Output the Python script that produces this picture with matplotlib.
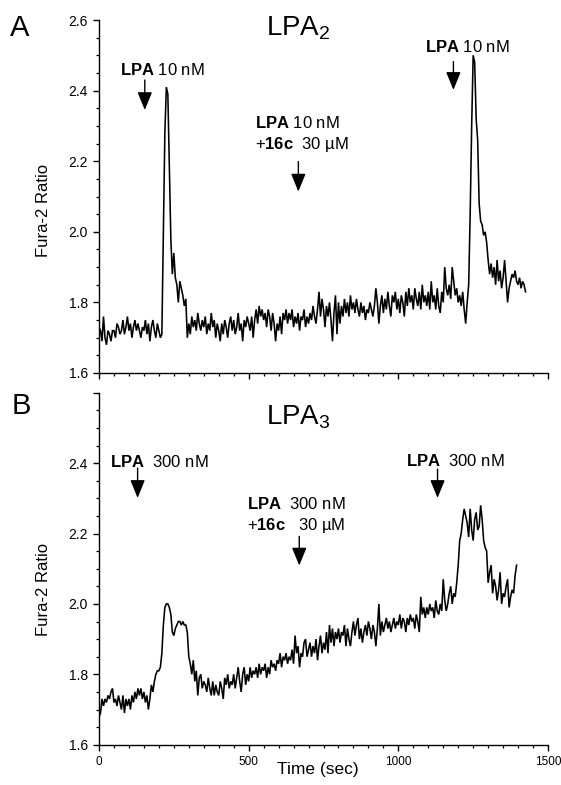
import numpy as np
import matplotlib
matplotlib.use("Agg")
import matplotlib.pyplot as plt
from matplotlib.ticker import MultipleLocator, FixedLocator, FuncFormatter

plt.rcParams['font.family'] = ['Liberation Sans', 'DejaVu Sans']
plt.rcParams['mathtext.fontset'] = 'custom'
plt.rcParams['mathtext.rm'] = 'Liberation Sans'
plt.rcParams['mathtext.bf'] = 'Liberation Sans:bold'
plt.rcParams['mathtext.it'] = 'Liberation Sans:italic'

# ---------------- data ----------------
SAMPLE_STEP = 5  # seconds between samples

lpa2_ratio = [
    1.73, 1.72, 1.69, 1.76, 1.70, 1.68, 1.72, 1.71, 1.69, 1.72, 1.72, 1.70, 1.74, 1.73, 1.71, 1.72, 1.75, 1.71, 1.73, 1.76,
    1.72, 1.74, 1.70, 1.73, 1.75, 1.72, 1.74, 1.72, 1.70, 1.73, 1.72, 1.75, 1.71, 1.74, 1.69, 1.73, 1.75, 1.72, 1.70, 1.74,
    1.72, 1.70, 1.71, 2.00, 2.28, 2.41, 2.39, 2.18, 1.98, 1.88, 1.94, 1.87, 1.85, 1.80, 1.86, 1.84, 1.82, 1.79, 1.81, 1.70,
    1.74, 1.71, 1.76, 1.73, 1.75, 1.72, 1.77, 1.74, 1.72, 1.75, 1.73, 1.76, 1.71, 1.74, 1.72, 1.77, 1.73, 1.75, 1.70, 1.74,
    1.72, 1.69, 1.74, 1.71, 1.75, 1.73, 1.70, 1.74, 1.76, 1.72, 1.75, 1.71, 1.73, 1.77, 1.72, 1.74, 1.69, 1.75, 1.73, 1.76,
    1.74, 1.72, 1.76, 1.70, 1.75, 1.78, 1.74, 1.79, 1.76, 1.78, 1.75, 1.77, 1.73, 1.78, 1.76, 1.72, 1.77, 1.74, 1.69, 1.74,
    1.72, 1.76, 1.71, 1.77, 1.75, 1.78, 1.74, 1.77, 1.75, 1.78, 1.73, 1.76, 1.74, 1.77, 1.72, 1.76, 1.75, 1.78, 1.73, 1.76,
    1.74, 1.77, 1.75, 1.79, 1.76, 1.74, 1.78, 1.83, 1.76, 1.81, 1.78, 1.73, 1.79, 1.76, 1.80, 1.75, 1.69, 1.77, 1.82, 1.71,
    1.80, 1.74, 1.79, 1.76, 1.81, 1.77, 1.80, 1.76, 1.82, 1.78, 1.80, 1.77, 1.81, 1.78, 1.76, 1.80, 1.77, 1.79, 1.75, 1.78,
    1.77, 1.80, 1.78, 1.76, 1.79, 1.84, 1.80, 1.74, 1.79, 1.82, 1.77, 1.81, 1.78, 1.83, 1.79, 1.76, 1.82, 1.80, 1.83, 1.78,
    1.81, 1.77, 1.82, 1.80, 1.76, 1.83, 1.79, 1.84, 1.80, 1.82, 1.78, 1.84, 1.81, 1.79, 1.83, 1.78, 1.85, 1.80, 1.82, 1.79,
    1.83, 1.78, 1.86, 1.80, 1.82, 1.78, 1.84, 1.79, 1.77, 1.83, 1.80, 1.90, 1.84, 1.82, 1.85, 1.81, 1.90, 1.86, 1.82, 1.84,
    1.80, 1.82, 1.79, 1.83, 1.78, 1.74, 1.80, 1.85, 2.05, 2.30, 2.50, 2.48, 2.32, 2.26, 2.08, 2.03, 2.02, 1.99, 2.00, 1.97,
    1.92, 1.88, 1.91, 1.87, 1.90, 1.85, 1.92, 1.86, 1.89, 1.84, 1.87, 1.92, 1.86, 1.80, 1.84, 1.86, 1.88, 1.87, 1.89, 1.86,
    1.85, 1.87, 1.84, 1.86, 1.85, 1.83,
]

lpa3_ratio = [
    1.68, 1.69, 1.73, 1.71, 1.73, 1.72, 1.74, 1.73, 1.75, 1.76, 1.72, 1.73, 1.71, 1.74, 1.72, 1.70, 1.74, 1.69, 1.73, 1.71,
    1.73, 1.70, 1.74, 1.72, 1.75, 1.73, 1.76, 1.74, 1.76, 1.73, 1.75, 1.72, 1.74, 1.70, 1.73, 1.77, 1.75, 1.78, 1.80, 1.81,
    1.81, 1.82, 1.86, 1.94, 1.99, 2.00, 2.00, 1.99, 1.97, 1.92, 1.91, 1.93, 1.94, 1.95, 1.95, 1.94, 1.95, 1.94, 1.94, 1.92,
    1.85, 1.83, 1.80, 1.84, 1.78, 1.81, 1.74, 1.79, 1.80, 1.76, 1.78, 1.77, 1.75, 1.79, 1.76, 1.74, 1.78, 1.74, 1.77, 1.75,
    1.74, 1.78, 1.76, 1.73, 1.79, 1.77, 1.80, 1.76, 1.78, 1.77, 1.80, 1.76, 1.79, 1.82, 1.78, 1.75, 1.80, 1.82, 1.77, 1.80,
    1.78, 1.82, 1.79, 1.81, 1.80, 1.82, 1.79, 1.83, 1.80, 1.82, 1.81, 1.83, 1.79, 1.82, 1.80, 1.84, 1.82, 1.83, 1.81, 1.84,
    1.83, 1.86, 1.82, 1.85, 1.84, 1.86, 1.83, 1.85, 1.84, 1.87, 1.83, 1.91, 1.86, 1.88, 1.82, 1.86, 1.85, 1.89, 1.90, 1.85,
    1.87, 1.89, 1.85, 1.88, 1.86, 1.90, 1.84, 1.88, 1.91, 1.86, 1.89, 1.87, 1.92, 1.86, 1.94, 1.89, 1.93, 1.88, 1.92, 1.90,
    1.93, 1.89, 1.92, 1.91, 1.94, 1.88, 1.93, 1.90, 1.88, 1.92, 1.95, 1.91, 1.94, 1.96, 1.90, 1.93, 1.89, 1.92, 1.94, 1.91,
    1.95, 1.93, 1.90, 1.94, 1.92, 1.88, 1.93, 2.00, 1.91, 1.95, 1.92, 1.94, 1.96, 1.93, 1.95, 1.92, 1.94, 1.96, 1.93, 1.95,
    1.94, 1.97, 1.93, 1.96, 1.95, 1.92, 1.96, 1.94, 1.97, 1.95, 1.96, 1.93, 1.97, 1.95, 1.92, 2.02, 1.97, 1.99, 1.96, 1.99,
    1.97, 2.00, 1.98, 1.99, 1.96, 2.01, 1.98, 1.97, 2.00, 1.98, 2.07, 2.01, 1.98, 2.00, 2.03, 2.05, 2.00, 2.03, 2.02, 2.06,
    2.11, 2.18, 2.20, 2.24, 2.27, 2.25, 2.23, 2.19, 2.27, 2.21, 2.18, 2.24, 2.26, 2.21, 2.22, 2.28, 2.24, 2.18, 2.16, 2.15,
    2.06, 2.09, 2.11, 2.03, 2.07, 2.05, 2.01, 2.04, 2.09, 2.00, 2.03, 2.02, 2.05, 2.07, 1.99, 2.02, 2.04, 2.03, 2.08, 2.11,
]

panel_titles = [r"LPA$_2$", r"LPA$_3$"]
panel_letters = ["A", "B"]

# annotations: (text lines, text x, text y baseline, arrow x, arrow tail y, arrow tip y)
lpa2_annotations = [
    ([r"$\mathbf{LPA}$ 10 nM"], 70, 2.444, 153, 2.43, 2.345),
    ([r"$\mathbf{LPA}$ 10 nM", r"+$\mathbf{16c}$  30 µM"], 521, 2.295, 666, 2.199, 2.114),
    ([r"$\mathbf{LPA}$ 10 nM"], 1089, 2.51, 1184, 2.482, 2.402),
]
lpa3_annotations = [
    ([r"$\mathbf{LPA}$  300 nM"], 37, 2.389, 129, 2.386, 2.301),
    ([r"$\mathbf{LPA}$  300 nM", r"+$\mathbf{16c}$   30 µM"], 495, 2.27, 669, 2.192, 2.109),
    ([r"$\mathbf{LPA}$  300 nM"], 1026, 2.391, 1131, 2.383, 2.301),
]

x_label = "Time (sec)"
y_label = "Fura-2 Ratio"
x_ticks = [0, 500, 1000, 1500]
y_ticks = [1.6, 1.8, 2.0, 2.2, 2.4, 2.6]

# ---------------- figure ----------------
W, H = 561, 785
fig = plt.figure(figsize=(W / 100, H / 100), dpi=100)
ax1 = fig.add_axes([99 / W, 1 - 373 / H, 449 / W, 353 / H])
ax2 = fig.add_axes([99 / W, 1 - 744.7 / H, 449 / W, 352 / H])

series = [lpa2_ratio, lpa3_ratio]
annots = [lpa2_annotations, lpa3_annotations]
title_y = [2.555, 2.51]

for i, ax in enumerate([ax1, ax2]):
    vals = np.array(series[i])
    t = np.arange(len(vals)) * SAMPLE_STEP
    ax.plot(t, vals, color='black', lw=1.15, solid_joinstyle='miter')
    ax.set_xlim(0, 1500)
    ax.set_ylim(1.6, 2.6)
    for s in ['top', 'right']:
        ax.spines[s].set_visible(False)
    for s in ['left', 'bottom']:
        ax.spines[s].set_linewidth(1.0)
    ax.xaxis.set_major_locator(FixedLocator(x_ticks))
    ax.xaxis.set_minor_locator(MultipleLocator(50))
    ax.yaxis.set_major_locator(FixedLocator(y_ticks))
    ax.yaxis.set_minor_locator(MultipleLocator(0.05))
    ax.tick_params(which='major', direction='out', length=4.6, width=1.0, pad=3.5)
    ax.tick_params(axis='y', which='major', labelsize=10)
    ax.tick_params(axis='x', which='major', labelsize=8.5)
    ax.tick_params(which='minor', direction='out', length=2.4, width=0.9)
    ax.set_ylabel(y_label, fontsize=12)
    ax.yaxis.set_label_coords(-0.108, 0.46 if i == 0 else 0.44)

    ax.text(665, title_y[i], panel_titles[i], fontsize=20, ha='center', va='baseline')

    for lines, tx, ty, ax_x, tail, tip in annots[i]:
        for k, line in enumerate(lines):
            ax.text(tx, ty - k * 0.06, line, fontsize=12, ha='left', va='baseline')
        ax.annotate('', xy=(ax_x, tip), xytext=(ax_x, tail),
                    arrowprops=dict(arrowstyle='-|>,head_length=1.1,head_width=0.45',
                                    color='black', lw=1.0, shrinkA=0, shrinkB=0,
                                    mutation_scale=10))

ax1.tick_params(axis='x', labelbottom=False)
ax1.yaxis.set_major_formatter(FuncFormatter(lambda v, p: f"{v:.1f}"))
ax2.yaxis.set_major_formatter(FuncFormatter(lambda v, p: "" if v > 2.55 else f"{v:.1f}"))
ax2.set_xlabel(x_label, fontsize=12.5)
ax2.xaxis.set_label_coords(0.488, -0.05)

fig.text(10 / W, 1 - 36 / H, panel_letters[0], fontsize=21, ha='left', va='baseline')
fig.text(12 / W, 1 - 414 / H, panel_letters[1], fontsize=21, ha='left', va='baseline')

fig.savefig("out.png", dpi=100)
